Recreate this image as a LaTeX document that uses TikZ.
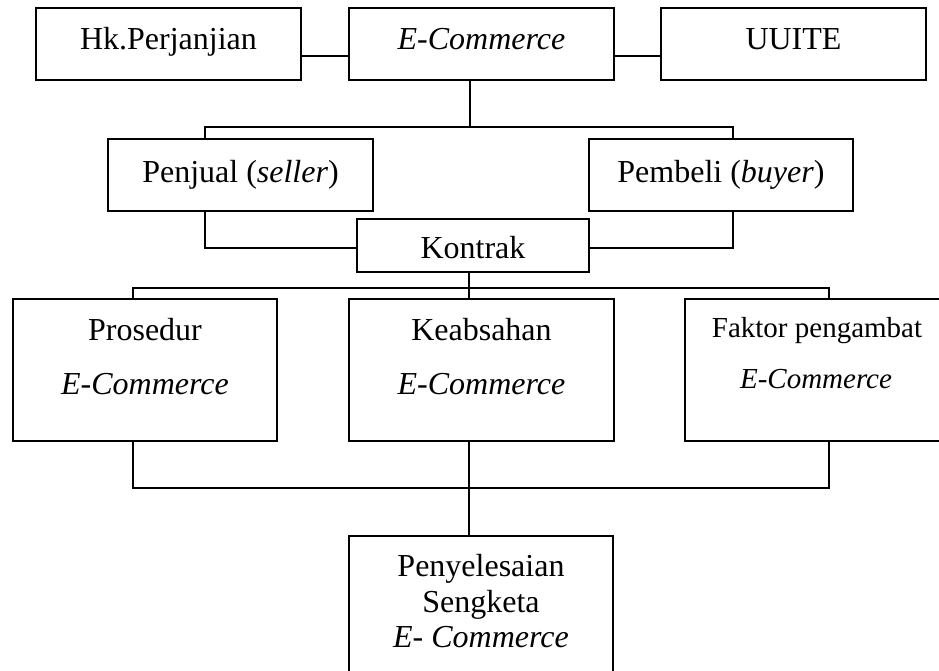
\documentclass[tikz,border=0pt]{standalone}
\usepackage{fontspec}
\setmainfont{Liberation Serif}
\begin{document}
\begin{tikzpicture}[x=1pt,y=-1pt,
  box/.style={draw,line width=1.4pt,inner sep=0pt,outer sep=0pt,rectangle},
  txt/.style={anchor=base,inner sep=0pt,font=\fontsize{32}{36}\selectfont},
  stxt/.style={anchor=base,inner sep=0pt,font=\fontsize{29}{33}\selectfont},
  link/.style={line width=1.4pt}]
\clip (0,0) rectangle (939,670);
\fill[white] (0,0) rectangle (939,670);
% boxes
\node[box,minimum width=265pt,minimum height=72pt] (hk) at (168.5,44) {};
\node[box,minimum width=265pt,minimum height=72pt] (ec) at (481.5,44) {};
\node[box,minimum width=265pt,minimum height=72pt] (uu) at (793.5,44) {};
\node[box,minimum width=265pt,minimum height=72pt] (pj) at (240.5,175) {};
\node[box,minimum width=264pt,minimum height=72pt] (pb) at (721,175) {};
\node[box,minimum width=232pt,minimum height=53pt] (kt) at (473,245.5) {};
\node[box,minimum width=264pt,minimum height=142pt] (pr) at (145,370) {};
\node[box,minimum width=265pt,minimum height=142pt] (kb) at (481.5,370) {};
\node[box,minimum width=262pt,minimum height=142pt] (fk) at (816,370) {};
\node[box,minimum width=264pt,minimum height=164pt] (ps) at (481,618) {};
% texts
\node[txt] (hkt) at (168.5,49) {Hk.Perjanjian};
\node[txt] (ect) at (481.5,49) {\itshape E-Commerce};
\node[txt] (uut) at (793.5,49) {UUITE};
\node[txt] (pjt) at (240.5,182) {Penjual (\textit{seller})};
\node[txt] (pbt) at (721,182) {Pembeli (\textit{buyer})};
\node[txt] (ktt) at (473,258) {Kontrak};
\node[txt] (prt1) at (145,340) {Prosedur};
\node[txt] (prt2) at (145,394) {\itshape E-Commerce};
\node[txt] (kbt1) at (481.5,340) {Keabsahan};
\node[txt] (kbt2) at (481.5,394) {\itshape E-Commerce};
\node[stxt] (fkt1) at (817,337) {Faktor pengambat};
\node[stxt] (fkt2) at (816,388) {\itshape E-Commerce};
\node[txt] (pst1) at (481,576) {Penyelesaian};
\node[txt] (pst2) at (481,612.5) {Sengketa};
\node[txt] (pst3) at (481,647) {\itshape E- Commerce};
% junction coordinates
\coordinate (j1) at (470,127);
\coordinate (a1) at (205,127);
\coordinate (a2) at (733,127);
\coordinate (k1) at (469,288);
\coordinate (b1) at (133,288);
\coordinate (b3) at (829,288);
\coordinate (c1) at (133,488);
\coordinate (c2) at (469,488);
\coordinate (c3) at (829,488);
% connectors
\draw[link] ([yshift=-12pt]hk.east) -- ([yshift=-12pt]ec.west);
\draw[link] ([yshift=-12pt]ec.east) -- ([yshift=-12pt]uu.west);
\draw[link] (ec.south -| j1) -- (j1);
\draw[link] (a1 |- pj.north) -- (a1) -- (a2) -- (a2 |- pb.north);
\draw[link] (a1 |- pj.south) |- ([yshift=-2.5pt]kt.west);
\draw[link] (a2 |- pb.south) |- ([yshift=-2.5pt]kt.east);
\draw[link] (kt.south -| k1) -- (k1 |- kb.north);
\draw[link] (b1 |- pr.north) -- (b1) -- (b3) -- (b3 |- fk.north);
\draw[link] (c1 |- pr.south) -- (c1) -- (c3) -- (c3 |- fk.south);
\draw[link] (c2 |- kb.south) -- (c2 |- ps.north);
\end{tikzpicture}
\end{document}
